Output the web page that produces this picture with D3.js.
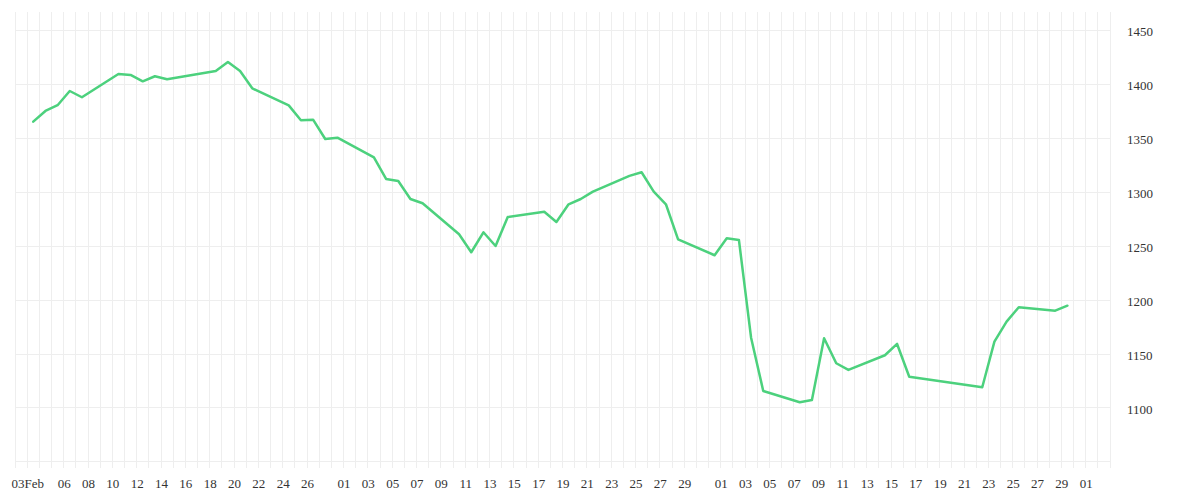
<!DOCTYPE html>
<html>
<head>
<meta charset="utf-8">
<script src="https://cdn.jsdelivr.net/npm/d3@7"></script>
<style>
  html, body { margin: 0; padding: 0; background: #ffffff; }
  svg { display: block; }
</style>
</head>
<body>
<svg id="chart" width="1200" height="500"></svg>
<script>
// ---- data ----
const dates = [
  "2019-02-04","2019-02-05","2019-02-06","2019-02-07","2019-02-08",
  "2019-02-11","2019-02-12","2019-02-13","2019-02-14","2019-02-15",
  "2019-02-19","2019-02-20","2019-02-21","2019-02-22",
  "2019-02-25","2019-02-26","2019-02-27","2019-02-28","2019-03-01",
  "2019-03-04","2019-03-05","2019-03-06","2019-03-07","2019-03-08",
  "2019-03-11","2019-03-12","2019-03-13","2019-03-14","2019-03-15",
  "2019-03-18","2019-03-19","2019-03-20","2019-03-21","2019-03-22",
  "2019-03-25","2019-03-26","2019-03-27","2019-03-28","2019-03-29",
  "2019-04-01","2019-04-02","2019-04-03","2019-04-04","2019-04-05",
  "2019-04-08","2019-04-09","2019-04-10","2019-04-11","2019-04-12",
  "2019-04-15","2019-04-16","2019-04-17",
  "2019-04-23","2019-04-24","2019-04-25","2019-04-26",
  "2019-04-29","2019-04-30"
];
const values = [
  1365.7, 1375.6, 1380.9, 1394.1, 1388.3,
  1409.9, 1409.0, 1403.1, 1407.8, 1405.0,
  1412.7, 1421.0, 1412.7, 1396.6,
  1380.8, 1367.0, 1367.5, 1349.6, 1350.8,
  1332.6, 1312.5, 1310.6, 1293.9, 1289.9,
  1261.2, 1244.5, 1263.0, 1250.3, 1277.2,
  1282.1, 1272.6, 1289.0, 1293.9, 1300.7,
  1315.3, 1318.7, 1300.7, 1289.0, 1256.5,
  1241.7, 1257.5, 1255.9, 1165.2, 1115.8,
  1105.3, 1107.4, 1164.7, 1141.5, 1135.3,
  1148.9, 1159.4, 1129.0,
  1119.2, 1161.5, 1180.1, 1193.4,
  1190.3, 1194.9
];
const yTickValues = [1100, 1150, 1200, 1250, 1300, 1350, 1400, 1450];
const yGridValues = [1050, 1100, 1150, 1200, 1250, 1300, 1350, 1400, 1450];
const xTickDates = [
  "2019-02-03","2019-02-06","2019-02-08","2019-02-10","2019-02-12","2019-02-14",
  "2019-02-16","2019-02-18","2019-02-20","2019-02-22","2019-02-24","2019-02-26",
  "2019-03-01","2019-03-03","2019-03-05","2019-03-07","2019-03-09","2019-03-11",
  "2019-03-13","2019-03-15","2019-03-17","2019-03-19","2019-03-21","2019-03-23",
  "2019-03-25","2019-03-27","2019-03-29",
  "2019-04-01","2019-04-03","2019-04-05","2019-04-07","2019-04-09","2019-04-11",
  "2019-04-13","2019-04-15","2019-04-17","2019-04-19","2019-04-21","2019-04-23",
  "2019-04-25","2019-04-27","2019-04-29",
  "2019-05-01"
];
const domainStart = "2019-02-02";
const domainEnd = "2019-05-03";

// ---- layout ----
const plot = { left: 15, right: 1110, top: 12, bottom: 468 };
const parse = d3.utcParse("%Y-%m-%d");
const svg = d3.select("#chart");

const x = d3.scaleUtc()
  .domain([parse(domainStart), parse(domainEnd)])
  .range([plot.left, plot.right]);
const y = d3.scaleLinear()
  .domain([1044.3, 1467.4])
  .range([plot.bottom, plot.top]);

const gridColor = "#eeeeee";
const textColor = "#333333";
const font = "'Liberation Serif', 'Times New Roman', serif";

// vertical grid (one per day boundary)
const gridDays = d3.utcDay.range(parse(domainStart), d3.utcDay.offset(parse(domainEnd), 1));
svg.append("g")
  .selectAll("line")
  .data(gridDays)
  .join("line")
  .attr("x1", d => x(d)).attr("x2", d => x(d))
  .attr("y1", plot.top).attr("y2", plot.bottom)
  .attr("stroke", gridColor).attr("stroke-width", 1)
  .attr("shape-rendering", "crispEdges");

// horizontal grid
svg.append("g")
  .selectAll("line")
  .data(yGridValues)
  .join("line")
  .attr("x1", plot.left).attr("x2", plot.right)
  .attr("y1", d => y(d)).attr("y2", d => y(d))
  .attr("stroke", gridColor).attr("stroke-width", 1)
  .attr("shape-rendering", "crispEdges");

// line (points sit half a day before the date boundary)
const pts = dates.map((d, i) => ({ t: d3.utcHour.offset(parse(d), -12), v: values[i] }));
const line = d3.line().x(d => x(d.t)).y(d => y(d.v));
svg.append("path")
  .datum(pts)
  .attr("d", line)
  .attr("fill", "none")
  .attr("stroke", "#4cd17d")
  .attr("stroke-width", 2.5)
  .attr("stroke-linejoin", "round")
  .attr("stroke-linecap", "round");

// x axis
const fmtFirst = d3.utcFormat("%d%b");
const fmtDay = d3.utcFormat("%d");
const xTicks = xTickDates.map(parse);
const xAxis = d3.axisBottom(x)
  .tickValues(xTicks)
  .tickFormat((d, i) => i === 0 ? fmtFirst(d) : fmtDay(d))
  .tickSize(0).tickPadding(0);
const gx = svg.append("g").attr("transform", `translate(0,${plot.bottom})`).call(xAxis);
gx.select(".domain").remove();
gx.selectAll("text")
  .attr("y", 20).attr("dy", 0)
  .attr("fill", textColor)
  .style("font-family", font).style("font-size", "13px");

// y axis (right)
const yAxis = d3.axisRight(y).tickValues(yTickValues).tickFormat(d3.format("d")).tickSize(0).tickPadding(0);
const gy = svg.append("g").attr("transform", `translate(1127,0)`).call(yAxis);
gy.select(".domain").remove();
gy.selectAll("text")
  .attr("x", 0).attr("dy", "0.4em")
  .attr("fill", textColor)
  .attr("text-anchor", "start")
  .style("font-family", font).style("font-size", "13px");
</script>
</body>
</html>
